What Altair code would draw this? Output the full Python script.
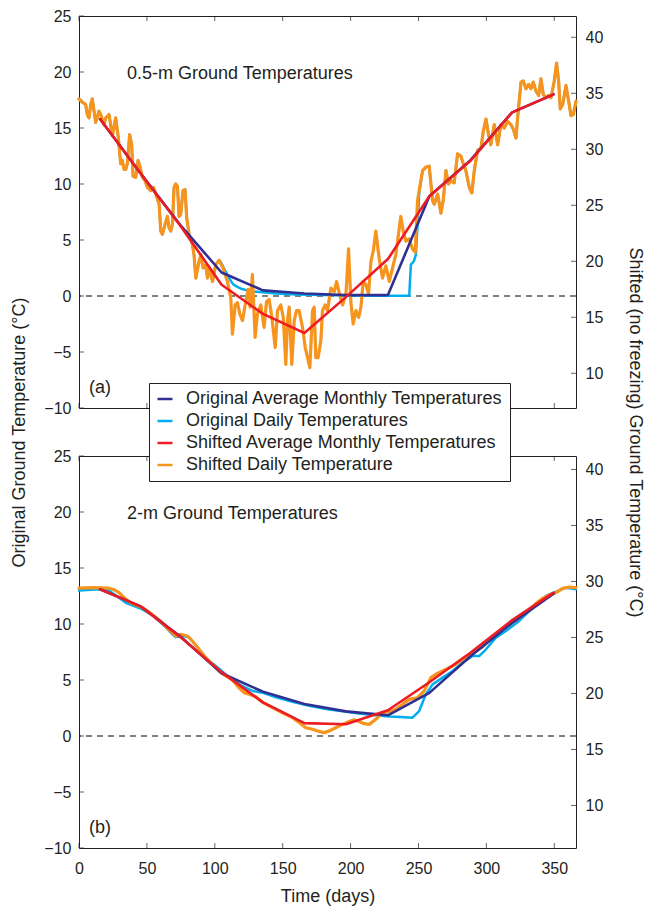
import altair as alt
import pandas as pd

FONT = "Liberation Sans"
INK = "#231F20"
W, H = 497, 392

series_names = [
    "Original Average Monthly Temperatures",
    "Original Daily Temperatures",
    "Shifted Average Monthly Temperatures",
    "Shifted Daily Temperature",
]
series_colors = ["#2E3192", "#00AEEF", "#ED1C24", "#F7941D"]

x_tick_values = [0, 50, 100, 150, 200, 250, 300, 350]
left_tick_values = [-10, -5, 0, 5, 10, 15, 20, 25]
right_tick_values = [10, 15, 20, 25, 30, 35, 40]
right_axis_shift = [16.9, 16.2]          # right-axis value at left-axis 0, per panel
panel_titles = ["0.5-m Ground Temperatures", "2-m Ground Temperatures"]
panel_tags = ["(a)", "(b)"]

month_days = [15.5, 45, 74.5, 105, 135.5, 166, 196.5, 227.5, 258, 288.5, 319, 349.5]

# ---------------- panel (a): 0.5 m ----------------
a_orig_monthly = [15.8, 11.0, 6.35, 2.1, 0.5, 0.22, 0.08, 0.08, 8.9, 12.15, 16.4, 18.0]
a_shift_monthly = [15.8, 11.0, 6.3, 1.0, -1.6, -3.3, -0.1, 3.3, 8.9, 12.1, 16.4, 18.0]

a_shift_daily_days = [
    0, 2.5, 4.9, 6.1, 7.4, 8.6, 9.8, 11.1, 12.3, 14.7,
    16.0, 18.4, 19.7, 22.1, 23.3, 24.6, 27.0, 29.0, 30.7, 31.9,
    33.2, 34.4, 35.6, 37.3, 38.8, 39.8, 41.8, 43.5, 45.0, 46.7,
    48.6, 50.4, 52.8, 54.8, 56.5, 59.0, 60.2, 61.4, 63.4, 65.1,
    66.3, 67.6, 68.8, 70.0, 71.2, 72.5, 73.7, 74.9, 76.6, 78.1,
    79.3, 81.1, 83.5, 84.7, 86.0, 87.9, 89.7, 91.4, 93.3, 94.6,
    95.8, 98.3, 100.7, 103.2, 106.1, 109.3, 111.8, 113.0, 115.0, 116.7,
    118.4, 120.4, 122.8, 124.6, 126.0, 127.7, 129.7, 131.4, 133.9, 136.3,
    138.1, 140.0, 142.0, 144.5, 146.2, 148.6, 150.4, 152.3, 153.5, 154.8,
    156.7, 158.5, 160.2, 162.1, 164.6, 166.6, 168.3, 170.0, 172.0, 173.2,
    174.4, 176.1, 178.1, 179.3, 181.3, 183.0, 185.5, 188.0, 189.7, 191.6,
    194.1, 196.6, 198.5, 200.2, 201.9, 203.9, 205.9, 207.6, 209.3, 211.3,
    213.2, 215.0, 216.7, 218.6, 221.1, 223.5, 226.0, 228.5, 230.9, 233.3,
    237.0, 238.7, 240.7, 243.2, 245.6, 247.6, 249.3, 250.5, 253.0, 255.4,
    257.9, 260.4, 261.6, 264.1, 266.5, 268.2, 270.2, 272.1, 273.9, 276.3,
    278.8, 281.2, 283.0, 284.9, 287.4, 289.3, 291.1, 293.5, 296.0, 297.7,
    299.7, 301.6, 303.3, 305.8, 308.3, 310.7, 313.2, 315.6, 318.1, 319.8,
    321.8, 323.0, 325.5, 327.2, 329.1, 331.1, 332.8, 334.5, 336.5, 338.5,
    340.2, 341.9, 343.9, 345.8, 347.6, 350.0, 351.7, 353.2, 354.4, 356.2,
    358.6, 360.6, 362.3, 364.0, 366.0,
]
a_shift_daily_vals = [
    17.6, 17.3, 17.1, 16.2, 15.9, 17.1, 17.6, 16.5, 15.5, 16.5,
    16.2, 15.3, 15.9, 16.2, 15.3, 14.3, 15.9, 14.1, 11.8, 12.1,
    11.3, 11.3, 11.8, 14.4, 13.5, 10.7, 10.6, 12.1, 11.5, 10.6,
    10.3, 9.7, 9.4, 9.7, 9.1, 8.2, 5.8, 5.5, 6.4, 7.1,
    6.1, 5.8, 6.4, 9.7, 10.0, 9.8, 7.1, 7.3, 9.4, 9.5,
    7.0, 5.5, 4.6, 3.7, 1.6, 2.8, 3.7, 2.5, 2.8, 1.6,
    2.5, 1.3, 2.8, 3.2, 2.5, 1.3, -0.2, -3.4, -0.8, -0.6,
    -1.6, -2.2, -0.5, 0.6, -1.0, 1.9, -3.7, -1.6, -0.8, -2.8,
    -0.5, -0.3, -1.9, -4.6, -1.3, -0.8, -1.9, -6.1, -2.2, -1.0,
    -6.1, -2.2, -1.3, -1.3, -2.8, -4.6, -5.5, -6.4, -1.3, -1.0,
    -5.5, -5.5, -4.0, -1.3, -0.8, -1.3, 0.7, 0.4, 1.3, 0.3,
    -0.8, 0.2, 4.2, -0.5, -2.5, -1.3, -1.9, -1.0, 1.3, 1.0,
    0.2, 3.1, 4.0, 5.8, 3.3, 1.6, 2.7, 1.3, 2.5, 3.7,
    7.1, 5.8, 4.9, 5.1, 4.2, 3.9, 8.5, 9.4, 11.2, 11.5,
    11.6, 8.5, 8.2, 9.1, 7.4, 8.5, 11.2, 10.0, 10.3, 10.1,
    12.7, 12.5, 11.8, 11.2, 9.7, 9.2, 11.2, 13.0, 13.2, 14.7,
    15.8, 14.4, 13.5, 15.3, 13.5, 15.3, 15.0, 15.6, 15.3, 14.9,
    14.1, 15.9, 19.1, 19.2, 18.5, 18.9, 18.5, 19.1, 18.3, 17.9,
    19.4, 18.0, 17.7, 17.9, 17.7, 19.2, 20.8, 19.2, 16.7, 17.1,
    18.8, 17.4, 16.1, 16.2, 17.4,
]
# original daily series where it departs from the shifted one (zero curtain)
a_orig_daily_mid_days = [104.5, 107, 110, 112, 114, 117, 120, 124, 128, 135,
                         145, 160, 180, 200, 220, 243.2, 244.4, 246.6, 248.1, 250.5]
a_orig_daily_mid_vals = [3.0, 2.4, 1.75, 1.3, 1.0, 0.8, 0.62, 0.5, 0.42, 0.33,
                         0.22, 0.14, 0.08, 0.05, 0.03, 0.03, 2.8, 3.1, 3.7, 9.1]

# ---------------- panel (b): 2 m ----------------
b_orig_monthly = [13.1, 11.6, 8.9, 5.6, 3.95, 2.85, 2.2, 1.85, 3.85, 7.15, 10.1, 12.7]
b_shift_monthly = [13.1, 11.6, 8.85, 5.7, 3.0, 1.15, 1.05, 2.3, 4.8, 7.45, 10.35, 12.8]

b_shift_daily_days = [
    0, 10, 22, 26, 29.5, 33.2, 38, 46.7, 54, 61.4,
    66, 68.8, 71.2, 74.9, 79.8, 83.5, 88.4, 93.3, 98.3, 103.2,
    108.1, 113, 117.9, 121.6, 125.3, 130.2, 135.1, 142.5, 149.8, 157.2,
    162.1, 167, 172, 176.9, 180.5, 184.2, 189.1, 194, 198.9, 202.6,
    206.3, 210, 213.7, 218.6, 223.5, 228.4, 233.3, 238.3, 243.2, 249.3,
    254.2, 259.1, 262.8, 267.7, 272.6, 277.5, 282.5, 287.4, 292.3, 297.2,
    302.1, 307, 311.9, 316.9, 321.8, 326.7, 331.6, 336.5, 341.4, 346.3,
    351.2, 356.2, 361.1, 366,
]
b_shift_daily_vals = [
    13.2, 13.25, 13.2, 13.05, 12.8, 12.35, 11.9, 11.46, 10.86, 10.12,
    9.5, 9.23, 8.93, 9.08, 8.93, 8.48, 7.74, 6.99, 6.4, 5.8,
    5.36, 5.0, 4.3, 3.87, 3.72, 3.5, 3.0, 2.53, 2.08, 1.64,
    1.2, 0.74, 0.6, 0.4, 0.3, 0.45, 0.74, 1.04, 1.3, 1.45,
    1.3, 1.1, 1.04, 1.49, 2.08, 2.17, 2.38, 2.83, 3.27, 3.42,
    4.02, 5.21, 5.51, 5.8, 6.1, 6.4, 6.85, 7.29, 7.59, 7.95,
    8.63, 9.08, 9.52, 9.97, 10.33, 10.8, 11.3, 11.82, 12.29, 12.59,
    12.8, 13.18, 13.3, 13.24,
]
b_orig_daily_days = [
    0, 14.7, 22.1, 29.5, 34.4, 46.7, 54, 61.4, 68.8, 71.2,
    76.1, 81, 88.4, 95, 103.2, 110, 117.9, 127.7, 135.1, 145,
    157.2, 169.5, 181.8, 194, 206.3, 218, 228.4, 237, 245.6, 250.5,
    255.4, 260.4, 267.7, 275.1, 282.5, 289.8, 294.7, 299.7, 307, 314.4,
    324.2, 334.1, 343.9, 353.7, 358.6, 366,
]
b_orig_daily_vals = [
    13.0, 13.1, 13.0, 12.35, 11.9, 11.3, 10.8, 10.0, 9.08, 8.84,
    8.93, 8.84, 7.74, 6.8, 6.0, 5.3, 4.61, 4.02, 3.87, 3.45,
    3.05, 2.7, 2.4, 2.2, 2.0, 1.85, 1.75, 1.7, 1.64, 2.23,
    3.72, 4.61, 5.21, 5.8, 6.55, 7.14, 7.14, 7.74, 8.78, 9.37,
    10.27, 11.46, 12.5, 13.0, 13.24, 13.1,
]

# the original daily series coincides with the shifted one outside the zero curtain
a_orig_daily_days = ([d for d in a_shift_daily_days if d <= 103.2] + a_orig_daily_mid_days
                     + [d for d in a_shift_daily_days if d >= 253.0])
a_orig_daily_vals = ([v for d, v in zip(a_shift_daily_days, a_shift_daily_vals) if d <= 103.2]
                     + a_orig_daily_mid_vals
                     + [v for d, v in zip(a_shift_daily_days, a_shift_daily_vals) if d >= 253.0])

xs = alt.Scale(domain=[0, 366], nice=False, zero=False)
ys = alt.Scale(domain=[-10, 25], nice=False, zero=False)
cs = alt.Scale(domain=series_names, range=series_colors)

LEGEND = alt.Legend(
    orient="none", legendX=70, legendY=-73, direction="vertical", title=None,
    fillColor="white", strokeColor=INK, padding=7,
    symbolType="stroke", symbolSize=225, symbolStrokeWidth=2.5,
    labelFont=FONT, labelFontSize=18, labelColor=INK, labelOffset=12,
    rowPadding=4, labelLimit=0,
)


def build_panel(idx, orig_m, od_days, od_vals, shift_m, sd_days, sd_vals, top):
    shift = right_axis_shift[idx]
    if top:
        xaxis = None
        yaxis = alt.Axis(
            orient="left", values=left_tick_values, ticks=False, domain=False, grid=False,
            labelPadding=8, labelFont=FONT, labelFontSize=16, labelColor=INK,
            title="Original Ground Temperature (°C)", titleFont=FONT, titleFontSize=18,
            titleFontWeight="normal", titleColor=INK, titleAngle=-90, titleX=-60, titleY=416,
            titleAlign="center", titleBaseline="middle",
        )
        raxis = alt.Axis(
            orient="right", values=right_tick_values, ticks=False, domain=False, grid=False,
            labelPadding=9, labelFont=FONT, labelFontSize=16, labelColor=INK,
            title="Shifted (no freezing) Ground Temperature (°C)", titleFont=FONT, titleFontSize=18,
            titleFontWeight="normal", titleColor=INK, titleAngle=90, titleX=58, titleY=416,
            titleAlign="center", titleBaseline="middle",
        )
        legend = None
        ytitle = "Original Ground Temperature (°C)"
        rtitle = "Shifted (no freezing) Ground Temperature (°C)"
    else:
        xaxis = alt.Axis(
            values=x_tick_values, ticks=False, domain=False, grid=False, labelFlush=False,
            labelPadding=12, labelFont=FONT, labelFontSize=16, labelColor=INK,
            title="Time (days)", titleFont=FONT, titleFontSize=18, titleFontWeight="normal",
            titleColor=INK, titlePadding=11,
        )
        yaxis = alt.Axis(
            orient="left", values=left_tick_values, ticks=False, domain=False, grid=False,
            labelPadding=8, labelFont=FONT, labelFontSize=16, labelColor=INK,
        )
        raxis = alt.Axis(
            orient="right", values=right_tick_values, ticks=False, domain=False, grid=False,
            labelPadding=9, labelFont=FONT, labelFontSize=16, labelColor=INK,
        )
        legend = LEGEND
        ytitle = None
        rtitle = None

    X = lambda: alt.X("day:Q", scale=xs, axis=xaxis, title="Time (days)")
    Y = lambda: alt.Y("temp:Q", scale=ys, axis=yaxis, title=ytitle)

    def line(days, vals, name, width):
        df = pd.DataFrame({"day": days, "temp": vals, "series": [name] * len(days)})
        return alt.Chart(df).mark_line(strokeWidth=width, strokeJoin="round", strokeCap="round").encode(
            x=X(), y=Y(), color=alt.Color("series:N", scale=cs, legend=legend)
        )

    zero = alt.Chart(pd.DataFrame({"temp": [0]})).mark_rule(
        color="black", strokeWidth=1, strokeDash=[6, 5]
    ).encode(y=Y())

    od = line(od_days, od_vals, series_names[1], 2.5)
    sd = line(sd_days, sd_vals, series_names[3], 3.2)
    om = line(month_days, orig_m, series_names[0], 2.6)
    sm = line(month_days, shift_m, series_names[2], 2.6)

    xt = pd.DataFrame({"day": x_tick_values})
    xt_top = alt.Chart(xt).mark_tick(orient="vertical", thickness=1, color=INK).encode(
        x=X(), y=alt.value(2.5), size=alt.value(5))
    xt_bot = alt.Chart(xt).mark_tick(orient="vertical", thickness=1, color=INK).encode(
        x=X(), y=alt.value(H - 2.5), size=alt.value(5))
    yt_left = alt.Chart(pd.DataFrame({"temp": left_tick_values})).mark_tick(
        orient="horizontal", thickness=1, color=INK).encode(
        y=Y(), x=alt.value(2.5), size=alt.value(5))

    title_txt = alt.Chart(pd.DataFrame({"label": [panel_titles[idx]]})).mark_text(
        align="left", baseline="middle", font=FONT, fontSize=18, color=INK
    ).encode(x=alt.value(48), y=alt.value(58), text="label:N")
    tag_txt = alt.Chart(pd.DataFrame({"label": [panel_tags[idx]]})).mark_text(
        align="left", baseline="middle", font=FONT, fontSize=18, color=INK
    ).encode(x=alt.value(10), y=alt.value(372), text="label:N")

    inner = alt.layer(zero, od, sd, om, sm, xt_top, xt_bot, yt_left, title_txt, tag_txt)

    right = alt.Chart(pd.DataFrame({"shifted": right_tick_values})).mark_tick(
        orient="horizontal", thickness=1, color=INK
    ).encode(
        y=alt.Y("shifted:Q", scale=alt.Scale(domain=[-10 + shift, 25 + shift], nice=False, zero=False),
                axis=raxis, title=rtitle),
        x=alt.value(W - 2.5), size=alt.value(5),
    )
    return alt.layer(inner, right).resolve_scale(y="independent").properties(width=W, height=H)


top = build_panel(0, a_orig_monthly, a_orig_daily_days, a_orig_daily_vals,
                  a_shift_monthly, a_shift_daily_days, a_shift_daily_vals, True)
bottom = build_panel(1, b_orig_monthly, b_orig_daily_days, b_orig_daily_vals,
                     b_shift_monthly, b_shift_daily_days, b_shift_daily_vals, False)

chart = (
    alt.vconcat(top, bottom, spacing=48, bounds="flush")
    .resolve_scale(x="independent", y="independent", color="independent")
    .properties(padding={"left": 9, "top": 7, "right": 0, "bottom": 0}, background="white")
    .configure_view(stroke=INK, strokeWidth=1)
)

chart.save("out.html", embed_options={"renderer": "svg", "actions": False})
